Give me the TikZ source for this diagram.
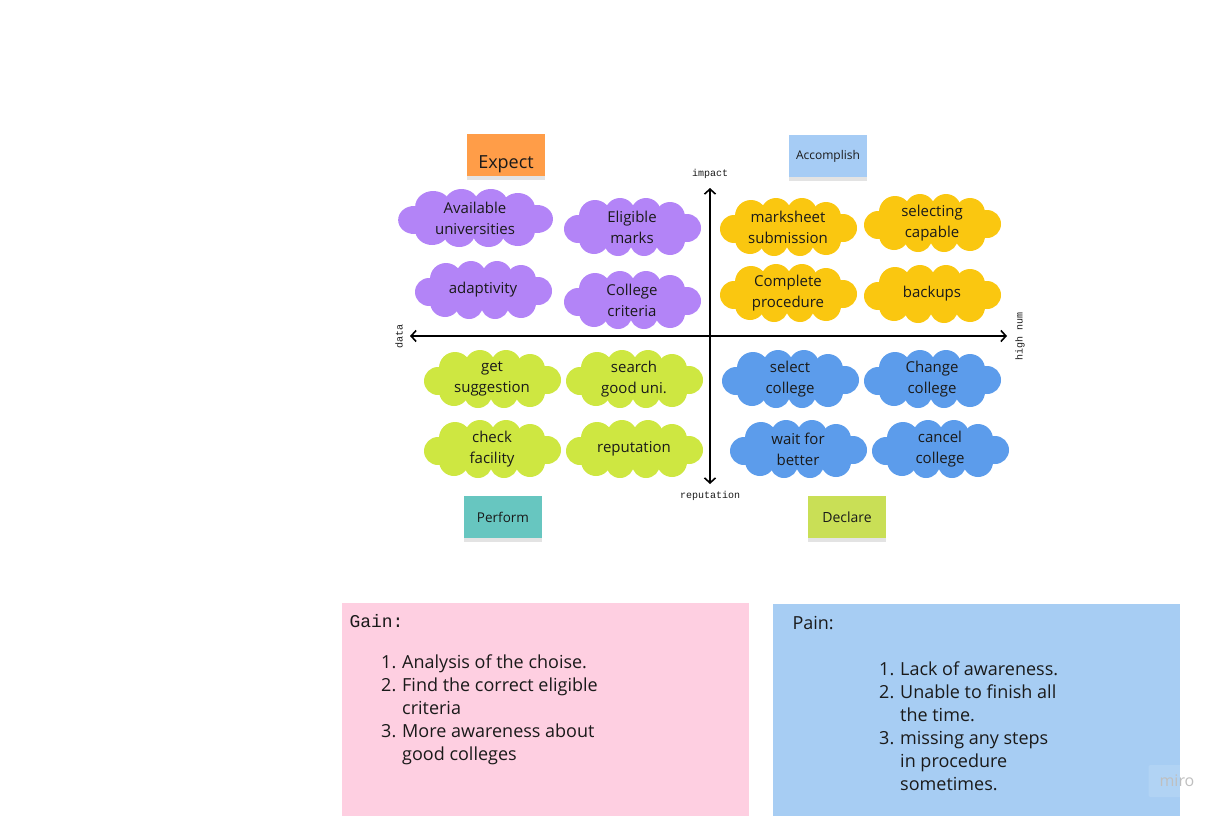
\documentclass[tikz,border=0pt]{standalone}
\usepackage{fontspec}
\setmainfont{Open Sans}
\setmonofont{Liberation Mono}
\usetikzlibrary{arrows.meta,shadows}
\definecolor{txt}{HTML}{1A1A1A}
\definecolor{expcol}{HTML}{FF9D48}
\definecolor{acccol}{HTML}{A6CCF5}
\definecolor{percol}{HTML}{67C6C0}
\definecolor{deccol}{HTML}{C9DF56}
\definecolor{purp}{HTML}{B384F7}
\definecolor{yell}{HTML}{FAC710}
\definecolor{lime}{HTML}{CEE741}
\definecolor{blu}{HTML}{5C9CEB}
\definecolor{gainbg}{HTML}{FECFE1}
\definecolor{painbg}{HTML}{A7CDF3}
\newcommand\nr[1]{\makebox[21pt][l]{#1}}
\newcommand\puff[5][1]{%
  \begin{scope}[shift={(#3)}, xscale=#1]
    \fill[#4] (0,0) ellipse [x radius=50, y radius=20];
    \foreach \px/\py/\pr in {-54/2/14, -37/-11/16, -12/-14/15, 14/-14/15, 38/-10/15,
                             55/1/14, 38/13/15, 12/15/14, -14/15/14, -38/12/15}
      \fill[#4] (\px,\py) circle [radius=\pr];
  \end{scope}
  \node[words] (#2) at (#3) {#5};}
\begin{document}
\begin{tikzpicture}[x=1pt,y=-1pt,
    sticky/.style={fill=#1, minimum width=78pt, minimum height=42pt, inner sep=0pt, text=txt,
      drop shadow={shadow xshift=0pt, shadow yshift=-4pt, opacity=.22}},
    words/.style={align=center, text=txt, inner sep=0pt, font=\fontsize{15}{21}\selectfont},
    axis/.style={line width=1.6pt, {Straight Barb[length=5pt,width=11pt]}-{Straight Barb[length=5pt,width=11pt]}},
    axlab/.style={font=\ttfamily\fontsize{10}{12}\selectfont, text=txt, inner sep=1pt},
    note/.style={fill=#1, anchor=north west, minimum width=407pt, minimum height=213pt, inner sep=0pt},
    listing/.style={anchor=north west, align=left, text=txt, inner sep=0pt,
      font=\fontsize{18}{23}\selectfont}]

  \useasboundingbox (0,0) rectangle (1224,816);

  \node[sticky=expcol, font=\fontsize{18}{20}\selectfont] (expect) at (506,155) {\raisebox{-13pt}[0pt][0pt]{Expect}};
  \node[sticky=acccol, font=\fontsize{12}{14}\selectfont] (accomp)  at (828,156) {Accomplish};
  \node[sticky=percol, font=\fontsize{13.5}{16}\selectfont] (perform) at (503,517) {Perform};
  \node[sticky=deccol, font=\fontsize{14}{16}\selectfont] (declare) at (847,517) {Declare};

  \puff[1.13]{avail}{475,218}{purp}{Available\\universities}
  \puff{elig}{632,227}{purp}{Eligible\\marks}
  \puff{adapt}{483,290}{purp}{adaptivity}
  \puff{crit}{632,300}{purp}{College\\criteria}

  \puff{marks}{788,227}{yell}{marksheet\\submission}
  \puff{capab}{932,223}{yell}{selecting\\capable}
  \puff{proc}{788,293}{yell}{Complete\\procedure}
  \puff{backup}{932,294}{yell}{backups}

  \puff{sugg}{492,379}{lime}{get\\suggestion}
  \puff{search}{634,379}{lime}{search\\good uni.}
  \puff{facil}{492,449}{lime}{check\\facility}
  \puff{repu}{634,449}{lime}{reputation}

  \puff{select}{790,379}{blu}{select\\college}
  \puff{change}{932,379}{blu}{Change\\college}
  \puff{wait}{798,449}{blu}{wait for\\better}
  \puff{cancel}{940,449}{blu}{cancel\\college}

  \coordinate (west)  at (410,336);
  \coordinate (east)  at (1007,336);
  \coordinate (north) at (710,188);
  \coordinate (south) at (710,484);
  \draw[axis] (west) -- (east);
  \draw[axis] (north) -- (south);

  \node[axlab] (impact) at (710,174) {impact};
  \node[axlab] (rep)    at (710,496) {reputation};
  \node[axlab, rotate=90] (data) at (399,336) {data};
  \node[axlab, rotate=90] (high) at (1020,336) {high num};

  \node[note=gainbg] (gain) at (342,603) {};
  \node[note=painbg] (pain) at (773,604) {};

  \node[anchor=west, text=txt, font=\ttfamily\fontsize{18}{20}\selectfont] (gaintitle) at (346,621) {Gain:};
  \node[anchor=west, text=txt, font=\fontsize{18}{20}\selectfont] (paintitle) at (789,623) {Pain:};

  \node[listing] (gainlist) at (381,655)
    {\nr{1.}Analysis of the choise.\\
     \nr{2.}Find the correct eligible\\
     \nr{}criteria\\
     \nr{3.}More awareness about\\
     \nr{}good colleges};
  \node[listing] (painlist) at (879,662)
    {\nr{1.}Lack of awareness.\\
     \nr{2.}Unable to finish all\\
     \nr{}the time.\\
     \nr{3.}missing any steps\\
     \nr{}in procedure\\
     \nr{}sometimes.};

  \node[fill=white, fill opacity=.12, text opacity=1, text=black!25, rounded corners=2pt,
    minimum width=57pt, minimum height=32pt, font=\fontsize{16}{18}\selectfont] (miro) at (1177,781) {miro};

\end{tikzpicture}
\end{document}
